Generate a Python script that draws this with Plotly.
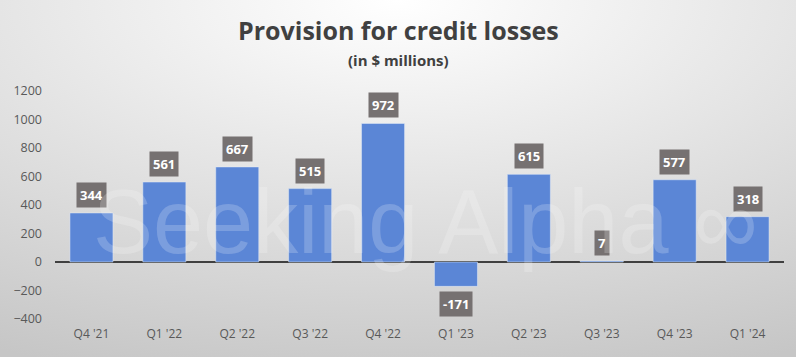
import plotly.graph_objects as go
import urllib.parse

quarters = ["Q4 '21", "Q1 '22", "Q2 '22", "Q3 '22", "Q4 '22", "Q1 '23", "Q2 '23", "Q3 '23", "Q4 '23", "Q1 '24"]
provision = [344, 561, 667, 515, 972, -171, 615, 7, 577, 318]
y_ticks = [-400, -200, 0, 200, 400, 600, 800, 1000, 1200]

bar_color = "#5B86D6"
label_bg = "#767171"

W, H = 796, 357
ML, MR, MT, MB = 55, 12, 91, 38
PW, PH = W - ML - MR, H - MT - MB

svg = ('<svg xmlns="http://www.w3.org/2000/svg" width="796" height="357">'
       '<defs><radialGradient id="g" cx="50%" cy="0%" r="110%" fx="50%" fy="0%">'
       '<stop offset="0%" stop-color="#ffffff"/><stop offset="100%" stop-color="#c6c6c6"/>'
       '</radialGradient></defs><rect width="796" height="357" fill="url(#g)"/></svg>')
bg_uri = "data:image/svg+xml;charset=utf-8," + urllib.parse.quote(svg)

fig = go.Figure()
fig.add_trace(go.Bar(x=quarters, y=provision, marker_color=bar_color, width=0.59,
                     hoverinfo="x+y"))

def px_to_paper(xp, yp):
    return (xp - ML) / PW, (H - MB - yp) / PH

annotations = []
for q, v in zip(quarters, provision):
    annotations.append(dict(
        x=q, y=v, xref="x", yref="y", text=f"<b>{v}</b>", showarrow=False,
        yshift=18 if v >= 0 else -18,
        font=dict(family="Open Sans, Arial", size=13, color="white"),
        bgcolor=label_bg, borderpad=3))

tx, ty = px_to_paper(W / 2, 30)
annotations.append(dict(
    x=tx, y=ty, xref="paper", yref="paper", xanchor="center", yanchor="middle",
    showarrow=False, text="<b>Provision for credit losses</b>",
    font=dict(family="Open Sans, Noto Sans, Arial", size=25, color="#404040")))
sx, sy = px_to_paper(W / 2, 60)
annotations.append(dict(
    x=sx, y=sy, xref="paper", yref="paper", xanchor="center", yanchor="middle",
    showarrow=False, text="<b>(in $ millions)</b>",
    font=dict(family="Open Sans, Noto Sans, Arial", size=15, color="#404040")))
wx, wy = px_to_paper(425, 222)
annotations.append(dict(
    x=wx, y=wy, xref="paper", yref="paper", xanchor="center", yanchor="middle",
    showarrow=False, text="Seeking Alpha ∞",
    font=dict(family="Liberation Sans, Arial", size=90, color="rgba(255,255,255,0.2)")))

fig.update_layout(
    width=W, height=H,
    margin=dict(l=ML, r=MR, t=MT, b=MB),
    paper_bgcolor="#e6e6e6", plot_bgcolor="rgba(0,0,0,0)",
    images=[dict(source=bg_uri, xref="paper", yref="paper",
                 x=-ML / PW, y=1 + MT / PH, sizex=W / PW, sizey=H / PH,
                 xanchor="left", yanchor="top", layer="below", sizing="stretch")],
    showlegend=False,
    annotations=annotations,
)

fig.update_xaxes(showgrid=False, showline=False, ticks="", zeroline=False,
                 ticklabelstandoff=6,
                 tickfont=dict(family="Open Sans, Arial", size=12, color="#595959"))
fig.update_yaxes(range=[-400, 1200], tickvals=y_ticks, showgrid=False, showline=False,
                 zeroline=True, zerolinecolor="#404040", zerolinewidth=1.5,
                 tickfont=dict(family="Open Sans, Arial", size=12.5, color="#595959"),
                 ticklabelstandoff=12)

fig.write_html("out.html")
